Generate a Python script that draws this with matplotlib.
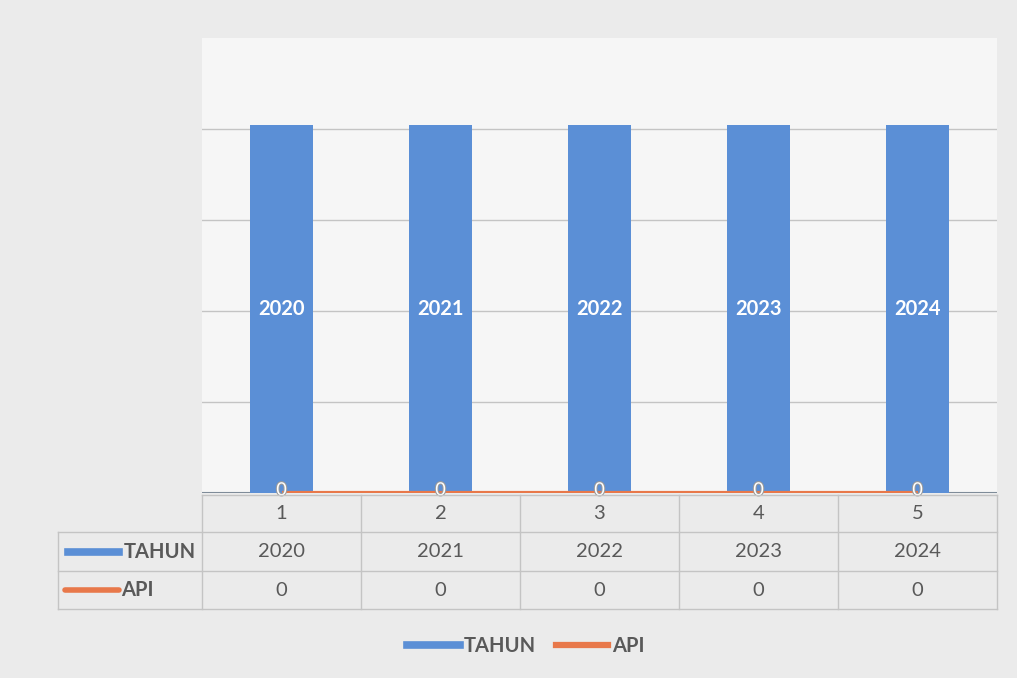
import matplotlib
matplotlib.use("Agg")
import matplotlib.pyplot as plt
import matplotlib.patheffects as pe
from matplotlib.lines import Line2D

positions = [1, 2, 3, 4, 5]
tahun = [2020, 2021, 2022, 2023, 2024]
api = [0, 0, 0, 0, 0]
series_names = ["TAHUN", "API"]
y_ticks = [0, 500, 1000, 1500, 2000, 2500]

BLUE = "#5b8fd6"
ORANGE = "#e8784a"
TXT = "#595959"
GRID = "#c4c4c4"
FONT = ["Lato", "DejaVu Sans"]
FS = 14.5

W, H = 1017, 678
fig = plt.figure(figsize=(W / 100, H / 100), dpi=100, facecolor="#ebebeb")

def fx(px):
    return px / W

def fy(py):
    return 1 - py / H

L, R, T, B = 202, 997, 38, 493
ax = fig.add_axes([fx(L), fy(B), fx(R - L), fy(T) - fy(B)])
ax.set_facecolor("#f6f6f6")
ax.set_xlim(0.5, 5.5)
ax.set_ylim(0, 2500)
for s in ax.spines.values():
    s.set_visible(False)
ax.set_xticks([])
ax.set_yticks([])
for yv in y_ticks[1:-1]:
    ax.axhline(yv, color=GRID, lw=1, zorder=0)
ax.axhline(0, color="#7f8c99", lw=1.5, zorder=1)

ax.bar(positions, tahun, width=0.39, color=BLUE, zorder=2)
ax.plot(positions, api, color=ORANGE, lw=3, zorder=3, solid_capstyle="butt")

for x, v in zip(positions, tahun):
    ax.text(x, v / 2, str(v), color="white", ha="center", va="center",
            fontsize=FS, fontweight="bold", family=FONT, zorder=4)
for x, v in zip(positions, api):
    ax.text(x, 15, str(v), color="white", ha="center", va="center",
            fontsize=13, family=FONT, zorder=4,
            path_effects=[pe.withStroke(linewidth=1.5, foreground="#9a9a9a")])

# Data table (pixel layout)
col_left = 58
rows_y = [495, 532, 571, 609]
col_x = [L + i * (R - L) / 5 for i in range(6)]

def hline(x0, x1, y):
    fig.add_artist(Line2D([fx(x0), fx(x1)], [fy(y), fy(y)], color=GRID, lw=1))

def vline(x, y0, y1):
    fig.add_artist(Line2D([fx(x), fx(x)], [fy(y0), fy(y1)], color=GRID, lw=1))

hline(L, R, rows_y[0])
for y in rows_y[1:]:
    hline(col_left, R, y)
vline(col_left, rows_y[1], rows_y[3])
for x in col_x:
    vline(x, rows_y[0], rows_y[3])

for i, p in enumerate(positions):
    cx = (col_x[i] + col_x[i + 1]) / 2
    fig.text(fx(cx), fy((rows_y[0] + rows_y[1]) / 2), str(p), ha="center", va="center",
             color=TXT, fontsize=FS, family=FONT)
    fig.text(fx(cx), fy((rows_y[1] + rows_y[2]) / 2), str(tahun[i]), ha="center", va="center",
             color=TXT, fontsize=FS, family=FONT)
    fig.text(fx(cx), fy((rows_y[2] + rows_y[3]) / 2), str(api[i]), ha="center", va="center",
             color=TXT, fontsize=FS, family=FONT)

# row labels with keys
ry1 = (rows_y[1] + rows_y[2]) / 2
ry2 = (rows_y[2] + rows_y[3]) / 2
fig.add_artist(Line2D([fx(68), fx(119)], [fy(ry1), fy(ry1)], color=BLUE, lw=5.5))
fig.text(fx(124), fy(ry1), series_names[0], ha="left", va="center", color=TXT,
         fontsize=FS, family=FONT, fontweight="bold")
fig.add_artist(Line2D([fx(65), fx(119)], [fy(ry2), fy(ry2)], color=ORANGE, lw=4,
                      solid_capstyle="round"))
fig.text(fx(121), fy(ry2), series_names[1], ha="left", va="center", color=TXT,
         fontsize=FS, family=FONT, fontweight="bold")

# legend
handles = [Line2D([], [], color=BLUE, lw=5.5), Line2D([], [], color=ORANGE, lw=4.5)]
leg = fig.legend(handles, series_names, loc="center", bbox_to_anchor=(fx(526), fy(646)),
                 ncol=2, frameon=False, handlelength=2.6, handletextpad=0.2,
                 columnspacing=1.0, prop={"family": FONT, "size": FS, "weight": "bold"})
for t in leg.get_texts():
    t.set_color(TXT)

fig.savefig("out.png", dpi=100, facecolor=fig.get_facecolor())
